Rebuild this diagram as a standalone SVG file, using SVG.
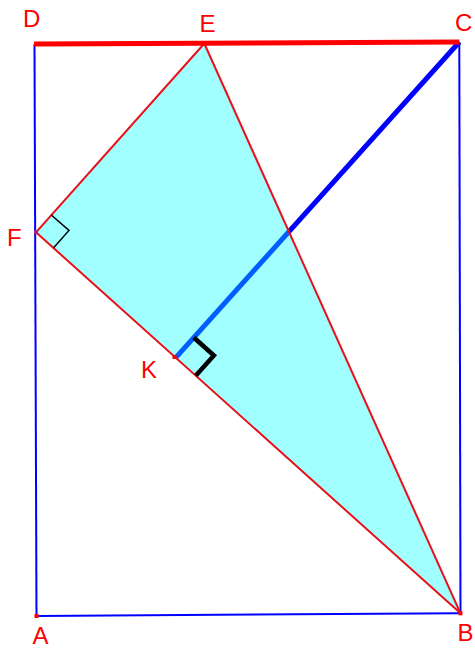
<svg xmlns="http://www.w3.org/2000/svg" width="475" height="648" viewBox="0 0 475 648">
<style>
.side{stroke:#0000ff;stroke-width:2;fill:none}
.red{stroke:#e8101a;stroke-width:2;fill:none}
.lbl{font-family:"Liberation Sans",Arial,sans-serif;font-size:24px;fill:#ff0000}
.pt{fill:#ff0000}
</style>
<rect width="475" height="648" fill="#ffffff"/>
<g id="connectors">
<line class="side" x1="34.5" y1="44" x2="36.5" y2="616"/>
<line class="side" x1="36.5" y1="616" x2="460.5" y2="613.3"/>
<line class="side" x1="460.5" y1="613.3" x2="459.3" y2="42"/>
<line stroke="#0000ff" stroke-width="5" x1="459.3" y1="42" x2="175.8" y2="357.6"/>
</g>
<g id="triangle">
<polygon points="204.3,43.5 36,232.3 460.5,613.3" fill="#00ffff" fill-opacity="0.37"/>
<line class="red" x1="204.3" y1="43.5" x2="36" y2="232.3"/>
<line class="red" x1="36" y1="232.3" x2="460.5" y2="613.3"/>
<line class="red" x1="204.3" y1="43.5" x2="460.5" y2="613.3"/>
</g>
<g id="DC">
<line stroke="#ff0000" stroke-width="5" x1="34" y1="44" x2="459.3" y2="42"/>
</g>
<g id="angleF">
<polyline points="51,214.8 69,230.4 53.4,247.9" fill="none" stroke="#000" stroke-width="1.5"/>
</g>
<g id="angleK">
<polyline points="193.8,337.5 213.9,355.5 195.9,375.6" fill="none" stroke="#000" stroke-width="4.5"/>
</g>
<g id="points">
<rect class="pt" x="34.5" y="614" width="4" height="4"/>
<rect class="pt" x="458.5" y="611.3" width="4" height="4"/>
<rect x="34" y="230.3" width="4" height="4" fill="#a0208a"/>
<rect class="pt" x="172.5" y="355" width="4" height="4"/>
</g>
<g id="D"><text class="lbl" x="23" y="27">D</text></g>
<g id="E"><text class="lbl" x="199.5" y="31.5">E</text></g>
<g id="C"><text class="lbl" x="455" y="30.5">C</text></g>
<g id="F"><text class="lbl" x="7" y="245.5">F</text></g>
<g id="K"><text class="lbl" x="141" y="378">K</text></g>
<g id="A"><text class="lbl" x="32.5" y="644">A</text></g>
<g id="B"><text class="lbl" x="457.5" y="641">B</text></g>
</svg>
